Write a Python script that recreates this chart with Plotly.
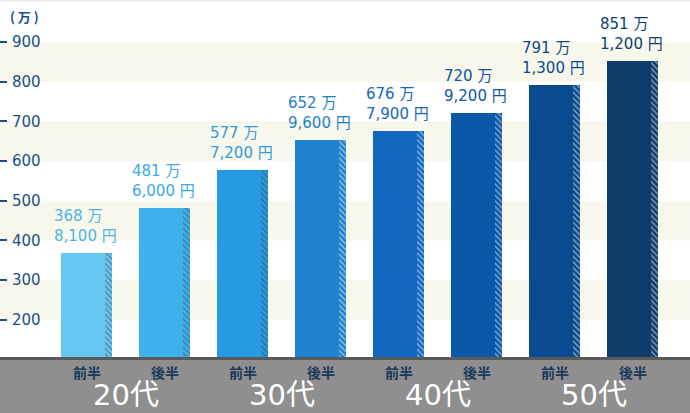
import plotly.graph_objects as go

# 年収データ (万円)
ages = ["20代", "30代", "40代", "50代"]
halves = ["前半", "後半", "前半", "後半", "前半", "後半", "前半", "後半"]
salary = [368.81, 481.60, 577.72, 652.96, 676.79, 720.92, 791.13, 851.12]
man_part = ["368", "481", "577", "652", "676", "720", "791", "851"]
yen_part = ["8,100", "6,000", "7,200", "9,600", "7,900", "9,200", "1,300", "1,200"]

bar_colors = ["#66c7f0", "#3eb0ec", "#269be4", "#1e82d0",
              "#1268bf", "#0b57a8", "#0a4a8e", "#0e3d6b"]
stripe_colors = ["#3a9fd6", "#1f8cd2", "#1478c4", "#1264b0",
                 "#0a4f9a", "#08417f", "#06376a", "#082a4c"]
label_colors = ["#4db4e8", "#3aaae6", "#2f9ce0", "#1f80cc",
                "#1468ba", "#0c56a4", "#0b4a8e", "#0f3f70"]

navy = "#1a4f8a"
x = list(range(len(salary)))
bw = 0.654
sw = 0.09

fig = go.Figure()
fig.add_trace(go.Bar(x=x, y=salary, width=bw, offset=-bw / 2,
                     marker=dict(color=bar_colors, line_width=0),
                     hoverinfo="skip"))
fig.add_trace(go.Bar(x=x, y=salary, width=sw, offset=bw / 2 - sw,
                     marker=dict(color=bar_colors, line_width=0,
                                 pattern=dict(shape="\\", fgcolor=stripe_colors,
                                              size=4, solidity=0.35,
                                              fillmode="overlay")),
                     hoverinfo="skip"))

# cream bands
shapes = []
for lo in [200, 400, 600, 800]:
    shapes.append(dict(type="rect", xref="paper", yref="y", x0=0, x1=1,
                       y0=lo, y1=lo + 100, fillcolor="#f8f7eb",
                       line_width=0, layer="below"))
# gray footer
shapes.append(dict(type="rect", xref="paper", yref="paper", x0=0, x1=1,
                   y0=-0.2, y1=0, fillcolor="#8f8f8f", line_width=0))
shapes.append(dict(type="line", xref="paper", yref="paper", x0=0, x1=1,
                   y0=-0.004, y1=-0.004, line=dict(color="#5a5a5a", width=3)))
shapes.append(dict(type="line", xref="paper", yref="paper", x0=0, x1=1,
                   y0=0.998, y1=0.998, line=dict(color="#ececec", width=2)))

annotations = []
for i, v in enumerate(salary):
    annotations.append(dict(
        x=i, y=v, xref="x", yref="y", xanchor="left", yanchor="bottom",
        xshift=-35, yshift=6, align="left", showarrow=False,
        text=f"{man_part[i]} 万<br>{yen_part[i]} 円",
        font=dict(family="DejaVu Sans, Noto Sans CJK JP", size=15,
                  color=label_colors[i])))
    annotations.append(dict(
        x=i, y=-0.043, xref="x", yref="paper", yanchor="middle",
        showarrow=False, text=halves[i],
        font=dict(family="Noto Sans CJK JP", size=14, color="#1b3a5c",
                  weight=700)))
for j, a in enumerate(ages):
    annotations.append(dict(
        x=2 * j + 0.5, y=-0.107, xref="x", yref="paper", showarrow=False,
        yanchor="middle", text=a,
        font=dict(family="DejaVu Sans, Noto Sans CJK JP", size=29,
                  color="white")))
annotations.append(dict(x=0.012, y=0.985, xref="paper", yref="paper",
                        xanchor="left", yanchor="top", showarrow=False,
                        text="( 万 )",
                        font=dict(family="Noto Sans CJK JP", size=13,
                                  color=navy, weight=700)))

fig.update_layout(
    width=690, height=413, margin=dict(l=0, r=0, t=0, b=56),
    paper_bgcolor="white", plot_bgcolor="white",
    barmode="overlay", showlegend=False, bargap=0,
    shapes=shapes, annotations=annotations,
    xaxis=dict(range=[-1.109, 7.737], showticklabels=False, automargin=False,
               showgrid=False, zeroline=False, showline=False, ticks=""),
    yaxis=dict(range=[106, 1006], tickvals=[200, 300, 400, 500, 600, 700, 800, 900],
               showgrid=False, zeroline=False, showline=False, automargin=False,
               ticks="inside", ticklen=7, tickwidth=1.5, tickcolor=navy,
               ticklabelposition="inside", ticklabelstandoff=5,
               tickfont=dict(family="DejaVu Sans", size=15, color=navy)),
)

fig.write_html("out.html", config={"displayModeBar": False},
               post_script="document.body.style.margin='0';")
